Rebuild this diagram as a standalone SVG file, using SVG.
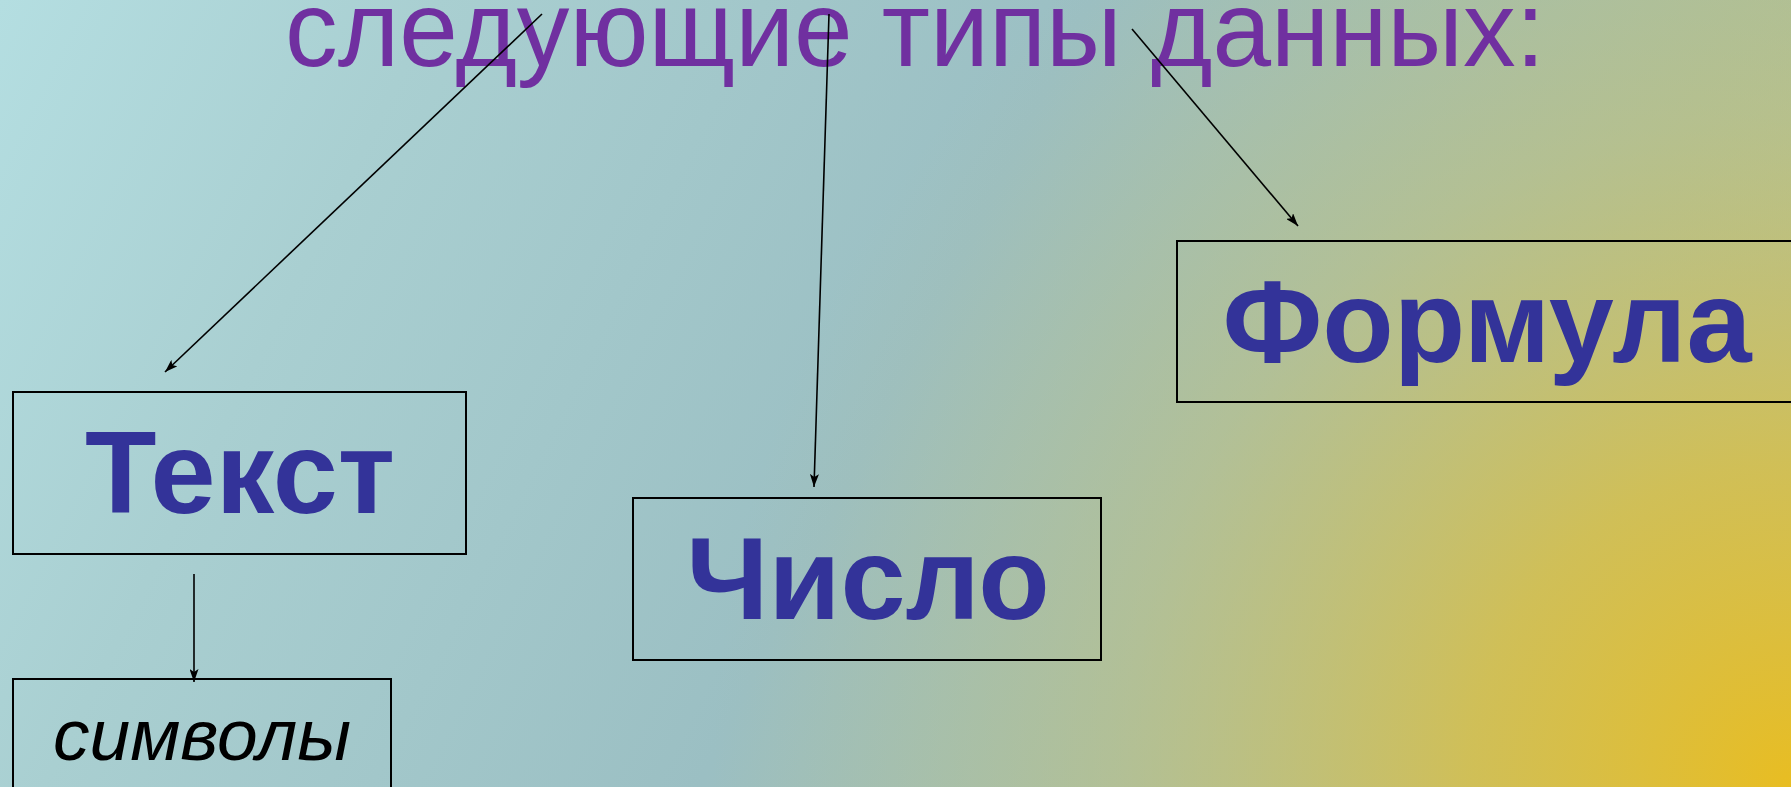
<svg xmlns="http://www.w3.org/2000/svg" width="1791" height="787" viewBox="0 0 1791 787">
  <defs>
    <linearGradient id="bg" gradientUnits="userSpaceOnUse" x1="0" y1="0" x2="1746" y2="873">
      <stop offset="0" stop-color="#b4dee1"/>
      <stop offset="0.2" stop-color="#a9cfd1"/>
      <stop offset="0.5" stop-color="#9bbfc3"/>
      <stop offset="0.8" stop-color="#a9bf9f"/>
      <stop offset="1" stop-color="#b4c08e"/>
    </linearGradient>
    <radialGradient id="glow" gradientUnits="userSpaceOnUse" cx="1791" cy="787" r="1080">
      <stop offset="0" stop-color="#e8bd22" stop-opacity="1"/>
      <stop offset="0.3" stop-color="#d6bf4c" stop-opacity="0.85"/>
      <stop offset="0.62" stop-color="#c4c17a" stop-opacity="0.45"/>
      <stop offset="1" stop-color="#b8c090" stop-opacity="0"/>
    </radialGradient>
    <marker id="arr" viewBox="0 0 13 9" refX="13" refY="4.5" markerWidth="13" markerHeight="9" markerUnits="userSpaceOnUse" orient="auto">
      <path d="M0,0 L13,4.5 L0,9 L3,4.5 Z" fill="#000"/>
    </marker>
    <style>
      .box { fill: none; stroke: #000; stroke-width: 2; }
      .big { font-family: "Liberation Sans", Arial, sans-serif; font-weight: bold; font-size: 117px; fill: #333399; text-anchor: middle; }
      .title { font-family: "Liberation Sans", Arial, sans-serif; font-size: 107px; fill: #7030a0; }
      .small { font-family: "Liberation Sans", Arial, sans-serif; font-style: italic; font-size: 73px; fill: #000; }
      .conn line { stroke: #000; stroke-width: 1.6; marker-end: url(#arr); }
    </style>
  </defs>
  <rect x="0" y="0" width="1791" height="787" fill="url(#bg)"/>
  <rect x="0" y="0" width="1791" height="787" fill="url(#glow)"/>

  <g id="title">
    <text class="title" x="285" y="66" textLength="1260" lengthAdjust="spacingAndGlyphs">следующие типы данных:</text>
  </g>

  <g id="node-text">
    <rect class="box" x="13" y="392" width="453" height="162"/>
    <text class="big" x="240" y="513">Текст</text>
  </g>

  <g id="node-number">
    <rect class="box" x="633" y="498" width="468" height="162"/>
    <text class="big" x="868" y="619">Число</text>
  </g>

  <g id="node-formula">
    <rect class="box" x="1177" y="241" width="640" height="161"/>
    <text class="big" x="1487" y="362">Формула</text>
  </g>

  <g id="node-symbols">
    <rect class="box" x="13" y="679" width="378" height="130"/>
    <text class="small" x="53" y="760" textLength="298" lengthAdjust="spacingAndGlyphs">символы</text>
  </g>

  <g id="connectors" class="conn">
    <line x1="542" y1="14" x2="165" y2="372"/>
    <line x1="829" y1="14" x2="814" y2="487"/>
    <line x1="1132" y1="29" x2="1298" y2="226"/>
    <line x1="194" y1="574" x2="194" y2="682"/>
  </g>
</svg>
